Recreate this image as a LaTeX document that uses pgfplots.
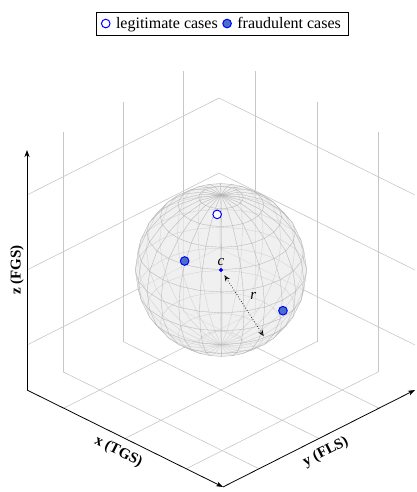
\documentclass[border=0pt]{standalone}
\usepackage{pgfplots}
\pgfplotsset{compat=1.18}
\usetikzlibrary{arrows.meta}
\usepackage{fontspec}
\setmainfont{Liberation Serif}
\definecolor{fraudfill}{RGB}{72,112,200}
\begin{document}
\begin{tikzpicture}
\begin{axis}[
  x={(61.25pt,-30.3pt)}, y={(60pt,30.3pt)}, z={(0pt,75pt)},
  xmin=-1.6, xmax=1.6, ymin=-1.6, ymax=1.6, zmin=-1.6, zmax=1.6,
  xtick={-1,0,1}, ytick={-1,0,1}, ztick={-1,0,1},
  xticklabels={}, yticklabels={}, zticklabels={},
  tick style={draw=none},
  grid=major, grid style={color=black!22, line width=0.6pt},
  axis line style={draw=none},
  clip=false,
  legend columns=2,
  legend style={at={(0.503,1.068)}, anchor=center, draw=black, line width=0.7pt,
    font=\fontsize{16}{19}\selectfont, inner xsep=5pt, inner ysep=3pt,
    /tikz/every odd column/.append style={column sep=4pt},
    /tikz/every even column/.append style={column sep=3pt}},
]
\addplot3[surf, shader=faceted, colormap={sph}{color=(black!8) color=(black!8)},
  faceted color=black!35, fill opacity=0.5, draw opacity=0.55, line width=0.3pt,
  mesh/rows=13, mesh/cols=25, forget plot] table[row sep=\\] {
x y z\\
0 0 -1\\ 0 0 -1\\ 0 0 -1\\ 0 0 -1\\ 0 0 -1\\ 0 0 -1\\ 0 0 -1\\ 0 0 -1\\ 0 0 -1\\ 0 0 -1\\ 0 0 -1\\ 0 0 -1\\ 0 0 -1\\ 0 0 -1\\ 0 0 -1\\ 0 0 -1\\ 0 0 -1\\ 0 0 -1\\ 0 0 -1\\ 0 0 -1\\ 0 0 -1\\ 0 0 -1\\ 0 0 -1\\ 0 0 -1\\ 0 0 -1\\
.259 0 -.966\\ .25 .067 -.966\\ .224 .129 -.966\\ .183 .183 -.966\\ .129 .224 -.966\\ .067 .25 -.966\\ 0 .259 -.966\\ -.067 .25 -.966\\ -.129 .224 -.966\\ -.183 .183 -.966\\ -.224 .129 -.966\\ -.25 .067 -.966\\ -.259 0 -.966\\ -.25 -.067 -.966\\ -.224 -.129 -.966\\ -.183 -.183 -.966\\ -.129 -.224 -.966\\ -.067 -.25 -.966\\ 0 -.259 -.966\\ .067 -.25 -.966\\ .129 -.224 -.966\\ .183 -.183 -.966\\ .224 -.129 -.966\\ .25 -.067 -.966\\ .259 0 -.966\\
.5 0 -.866\\ .483 .129 -.866\\ .433 .25 -.866\\ .354 .354 -.866\\ .25 .433 -.866\\ .129 .483 -.866\\ 0 .5 -.866\\ -.129 .483 -.866\\ -.25 .433 -.866\\ -.354 .354 -.866\\ -.433 .25 -.866\\ -.483 .129 -.866\\ -.5 0 -.866\\ -.483 -.129 -.866\\ -.433 -.25 -.866\\ -.354 -.354 -.866\\ -.25 -.433 -.866\\ -.129 -.483 -.866\\ 0 -.5 -.866\\ .129 -.483 -.866\\ .25 -.433 -.866\\ .354 -.354 -.866\\ .433 -.25 -.866\\ .483 -.129 -.866\\ .5 0 -.866\\
.707 0 -.707\\ .683 .183 -.707\\ .612 .354 -.707\\ .5 .5 -.707\\ .354 .612 -.707\\ .183 .683 -.707\\ 0 .707 -.707\\ -.183 .683 -.707\\ -.354 .612 -.707\\ -.5 .5 -.707\\ -.612 .354 -.707\\ -.683 .183 -.707\\ -.707 0 -.707\\ -.683 -.183 -.707\\ -.612 -.354 -.707\\ -.5 -.5 -.707\\ -.354 -.612 -.707\\ -.183 -.683 -.707\\ 0 -.707 -.707\\ .183 -.683 -.707\\ .354 -.612 -.707\\ .5 -.5 -.707\\ .612 -.354 -.707\\ .683 -.183 -.707\\ .707 0 -.707\\
.866 0 -.5\\ .837 .224 -.5\\ .75 .433 -.5\\ .612 .612 -.5\\ .433 .75 -.5\\ .224 .837 -.5\\ 0 .866 -.5\\ -.224 .837 -.5\\ -.433 .75 -.5\\ -.612 .612 -.5\\ -.75 .433 -.5\\ -.837 .224 -.5\\ -.866 0 -.5\\ -.837 -.224 -.5\\ -.75 -.433 -.5\\ -.612 -.612 -.5\\ -.433 -.75 -.5\\ -.224 -.837 -.5\\ 0 -.866 -.5\\ .224 -.837 -.5\\ .433 -.75 -.5\\ .612 -.612 -.5\\ .75 -.433 -.5\\ .837 -.224 -.5\\ .866 0 -.5\\
.966 0 -.259\\ .933 .25 -.259\\ .837 .483 -.259\\ .683 .683 -.259\\ .483 .837 -.259\\ .25 .933 -.259\\ 0 .966 -.259\\ -.25 .933 -.259\\ -.483 .837 -.259\\ -.683 .683 -.259\\ -.837 .483 -.259\\ -.933 .25 -.259\\ -.966 0 -.259\\ -.933 -.25 -.259\\ -.837 -.483 -.259\\ -.683 -.683 -.259\\ -.483 -.837 -.259\\ -.25 -.933 -.259\\ 0 -.966 -.259\\ .25 -.933 -.259\\ .483 -.837 -.259\\ .683 -.683 -.259\\ .837 -.483 -.259\\ .933 -.25 -.259\\ .966 0 -.259\\
1 0 0\\ .966 .259 0\\ .866 .5 0\\ .707 .707 0\\ .5 .866 0\\ .259 .966 0\\ 0 1 0\\ -.259 .966 0\\ -.5 .866 0\\ -.707 .707 0\\ -.866 .5 0\\ -.966 .259 0\\ -1 0 0\\ -.966 -.259 0\\ -.866 -.5 0\\ -.707 -.707 0\\ -.5 -.866 0\\ -.259 -.966 0\\ 0 -1 0\\ .259 -.966 0\\ .5 -.866 0\\ .707 -.707 0\\ .866 -.5 0\\ .966 -.259 0\\ 1 0 0\\
.966 0 .259\\ .933 .25 .259\\ .837 .483 .259\\ .683 .683 .259\\ .483 .837 .259\\ .25 .933 .259\\ 0 .966 .259\\ -.25 .933 .259\\ -.483 .837 .259\\ -.683 .683 .259\\ -.837 .483 .259\\ -.933 .25 .259\\ -.966 0 .259\\ -.933 -.25 .259\\ -.837 -.483 .259\\ -.683 -.683 .259\\ -.483 -.837 .259\\ -.25 -.933 .259\\ 0 -.966 .259\\ .25 -.933 .259\\ .483 -.837 .259\\ .683 -.683 .259\\ .837 -.483 .259\\ .933 -.25 .259\\ .966 0 .259\\
.866 0 .5\\ .837 .224 .5\\ .75 .433 .5\\ .612 .612 .5\\ .433 .75 .5\\ .224 .837 .5\\ 0 .866 .5\\ -.224 .837 .5\\ -.433 .75 .5\\ -.612 .612 .5\\ -.75 .433 .5\\ -.837 .224 .5\\ -.866 0 .5\\ -.837 -.224 .5\\ -.75 -.433 .5\\ -.612 -.612 .5\\ -.433 -.75 .5\\ -.224 -.837 .5\\ 0 -.866 .5\\ .224 -.837 .5\\ .433 -.75 .5\\ .612 -.612 .5\\ .75 -.433 .5\\ .837 -.224 .5\\ .866 0 .5\\
.707 0 .707\\ .683 .183 .707\\ .612 .354 .707\\ .5 .5 .707\\ .354 .612 .707\\ .183 .683 .707\\ 0 .707 .707\\ -.183 .683 .707\\ -.354 .612 .707\\ -.5 .5 .707\\ -.612 .354 .707\\ -.683 .183 .707\\ -.707 0 .707\\ -.683 -.183 .707\\ -.612 -.354 .707\\ -.5 -.5 .707\\ -.354 -.612 .707\\ -.183 -.683 .707\\ 0 -.707 .707\\ .183 -.683 .707\\ .354 -.612 .707\\ .5 -.5 .707\\ .612 -.354 .707\\ .683 -.183 .707\\ .707 0 .707\\
.5 0 .866\\ .483 .129 .866\\ .433 .25 .866\\ .354 .354 .866\\ .25 .433 .866\\ .129 .483 .866\\ 0 .5 .866\\ -.129 .483 .866\\ -.25 .433 .866\\ -.354 .354 .866\\ -.433 .25 .866\\ -.483 .129 .866\\ -.5 0 .866\\ -.483 -.129 .866\\ -.433 -.25 .866\\ -.354 -.354 .866\\ -.25 -.433 .866\\ -.129 -.483 .866\\ 0 -.5 .866\\ .129 -.483 .866\\ .25 -.433 .866\\ .354 -.354 .866\\ .433 -.25 .866\\ .483 -.129 .866\\ .5 0 .866\\
.259 0 .966\\ .25 .067 .966\\ .224 .129 .966\\ .183 .183 .966\\ .129 .224 .966\\ .067 .25 .966\\ 0 .259 .966\\ -.067 .25 .966\\ -.129 .224 .966\\ -.183 .183 .966\\ -.224 .129 .966\\ -.25 .067 .966\\ -.259 0 .966\\ -.25 -.067 .966\\ -.224 -.129 .966\\ -.183 -.183 .966\\ -.129 -.224 .966\\ -.067 -.25 .966\\ 0 -.259 .966\\ .067 -.25 .966\\ .129 -.224 .966\\ .183 -.183 .966\\ .224 -.129 .966\\ .25 -.067 .966\\ .259 0 .966\\
0 0 1\\ 0 0 1\\ 0 0 1\\ 0 0 1\\ 0 0 1\\ 0 0 1\\ 0 0 1\\ 0 0 1\\ 0 0 1\\ 0 0 1\\ 0 0 1\\ 0 0 1\\ 0 0 1\\ 0 0 1\\ 0 0 1\\ 0 0 1\\ 0 0 1\\ 0 0 1\\ 0 0 1\\ 0 0 1\\ 0 0 1\\ 0 0 1\\ 0 0 1\\ 0 0 1\\ 0 0 1\\
};
\addplot3[only marks, mark=*, mark size=4.3pt, mark options={fill=white, draw=blue, line width=1pt}]
  coordinates {(-0.18,0.12,0.62)};
\addlegendentry{legitimate cases}
\addplot3[only marks, mark=*, mark size=4.3pt, mark options={fill=fraudfill, draw=blue, line width=1pt}]
  coordinates {(-0.3,-0.3,0.12) (0.6,0.42,-0.47)};
\addlegendentry{fraudulent cases}
\addplot3[only marks, mark=*, mark size=1.8pt, color=blue, forget plot] coordinates {(0,0,0)};
\draw[-{Stealth[length=7pt,width=5pt,inset=2pt]}, line width=0.8pt] (axis cs:-1.6,-1.6,-1.6) -- (axis cs:-1.6,-1.6,1.6);
\draw[-{Stealth[length=7pt,width=5pt,inset=2pt]}, line width=0.8pt] (axis cs:-1.6,-1.6,-1.6) -- (axis cs:1.6,-1.6,-1.6);
\draw[-{Stealth[length=7pt,width=5pt,inset=2pt]}, line width=0.8pt] (axis cs:1.6,-1.6,-1.6) -- (axis cs:1.6,1.6,-1.6);
\node[rotate=-26.32, anchor=north, inner sep=8pt, font=\fontsize{15}{18}\selectfont\bfseries] at (axis cs:0,-1.6,-1.6) {x (TGS)};
\node[rotate=26.8, anchor=north, inner sep=8pt, font=\fontsize{15}{18}\selectfont\bfseries] at (axis cs:1.6,0,-1.6) {y (FLS)};
\node[rotate=90, anchor=south, inner sep=3pt, font=\fontsize{15}{18}\selectfont\bfseries] at (axis cs:-1.6,-1.6,0) {z (FGS)};
\node[anchor=south, inner sep=4pt, font=\fontsize{15}{18}\selectfont\itshape] at (axis cs:0,0,0) {c};
\draw[dotted, {Stealth[length=6pt,width=5pt,open]}-{Stealth[length=6pt,width=5pt,open]}, line width=0.7pt] (axis cs:0.04,0.016,-0.06) -- (axis cs:0.5,0.2,-0.76);
\node[xshift=11pt, yshift=7pt, font=\fontsize{15}{18}\selectfont\itshape] at (axis cs:0.25,0.1,-0.38) {r};
\coordinate (O) at (axis cs:-1.6,-1.6,-1.6);
\end{axis}
\pgfresetboundingbox
\path[use as bounding box] ([shift={(-27pt,-102pt)}]O) rectangle ([shift={(390pt,390pt)}]O);
\end{tikzpicture}
\end{document}
